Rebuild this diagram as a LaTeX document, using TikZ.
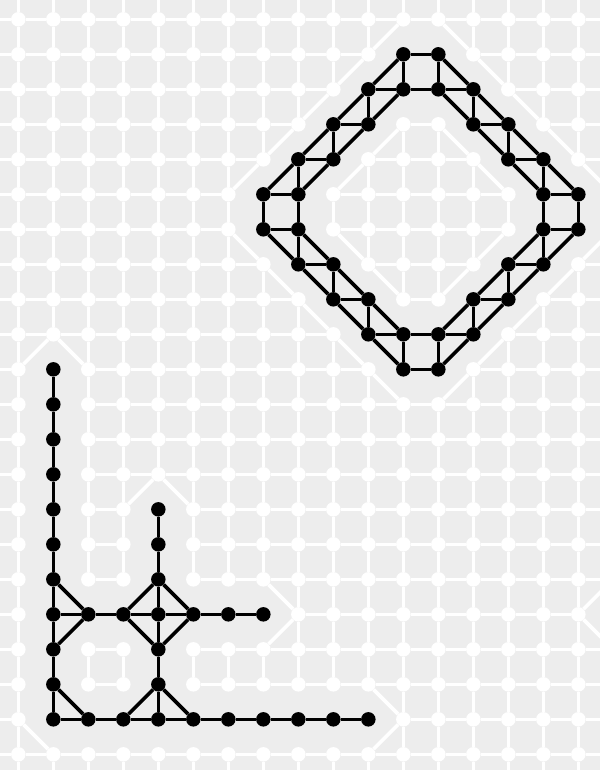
\documentclass[tikz,border=0pt]{standalone}
\definecolor{bgcol}{HTML}{EDEDED}
\tikzset{
  dotw/.style={circle,fill=white,inner sep=0pt,minimum size=14.5pt},
  dotb/.style={circle,fill=black,inner sep=0pt,minimum size=14.5pt},
  linkw/.style={draw=white,line width=3.6pt},
  linkb/.style={draw=black,line width=3.6pt}
}
\def\flagb#1#2{\ifcsname bk#1x#2\endcsname 1\else 0\fi}
\begin{document}
\begin{tikzpicture}[x=1pt,y=-1pt]
\useasboundingbox (0,0) rectangle (600,770);
\clip (0,0) rectangle (600,770);
\fill[bgcol] (0,0) rectangle (600,770);
% black vertices
\foreach \p in {
  11x1,12x1,10x2,11x2,12x2,13x2,9x3,10x3,13x3,14x3,8x4,9x4,14x4,15x4,
  7x5,8x5,15x5,16x5,7x6,8x6,15x6,16x6,8x7,9x7,14x7,15x7,9x8,10x8,13x8,14x8,
  10x9,11x9,12x9,13x9,11x10,12x10,
  1x10,1x11,1x12,1x13,1x14,1x15,1x16,1x17,1x18,1x19,1x20,
  4x14,4x15,4x16,4x17,4x18,4x19,4x20,
  2x17,3x17,5x17,6x17,7x17,
  2x20,3x20,5x20,6x20,7x20,8x20,9x20,10x20,
  17x17}{\expandafter\gdef\csname bk\p\endcsname{}}
% vertices
\foreach \i in {-1,...,17}{
  \foreach \j in {-1,...,22}{
    \ifnum\flagb{\i}{\j}=1
      \node[dotb] (n\i x\j) at ({18.33+35*\i},{19.33+35*\j}) {};
    \else
      \node[dotw] (n\i x\j) at ({18.33+35*\i},{19.33+35*\j}) {};
    \fi
  }
}
% horizontal and vertical links
\foreach \i [evaluate=\i as \ii using int(\i+1)] in {-1,...,17}{
  \foreach \j in {-1,...,22}{
    \ifnum\i<17
      \ifnum\numexpr\flagb{\i}{\j}+\flagb{\ii}{\j}\relax=0
        \path[linkw] (n\i x\j) -- (n\ii x\j);
      \fi
      \ifnum\numexpr\flagb{\i}{\j}+\flagb{\ii}{\j}\relax=2
        \path[linkb] (n\i x\j) -- (n\ii x\j);
      \fi
    \fi
  }
}
\foreach \i in {-1,...,17}{
  \foreach \j [evaluate=\j as \jj using int(\j+1)] in {-1,...,21}{
    \ifnum\numexpr\flagb{\i}{\j}+\flagb{\i}{\jj}\relax=0
      \path[linkw] (n\i x\j) -- (n\i x\jj);
    \fi
    \ifnum\numexpr\flagb{\i}{\j}+\flagb{\i}{\jj}\relax=2
      \path[linkb] (n\i x\j) -- (n\i x\jj);
    \fi
  }
}
% diagonal links: a face with one odd corner
\foreach \i [evaluate=\i as \ii using int(\i+1)] in {-1,...,16}{
  \foreach \j [evaluate=\j as \jj using int(\j+1)] in {-1,...,21}{
    \edef\cntb{\the\numexpr\flagb{\i}{\j}+\flagb{\ii}{\j}+\flagb{\i}{\jj}+\flagb{\ii}{\jj}\relax}
    \edef\cntm{\the\numexpr\flagb{\i}{\j}+\flagb{\ii}{\jj}\relax}
    \ifnum\cntb=1
      \ifnum\cntm=1
        \path[linkw] (n\ii x\j) -- (n\i x\jj);
      \else
        \path[linkw] (n\i x\j) -- (n\ii x\jj);
      \fi
    \fi
    \ifnum\cntb=3
      \ifnum\cntm=1
        \path[linkb] (n\ii x\j) -- (n\i x\jj);
      \else
        \path[linkb] (n\i x\j) -- (n\ii x\jj);
      \fi
    \fi
  }
}
\end{tikzpicture}
\end{document}
